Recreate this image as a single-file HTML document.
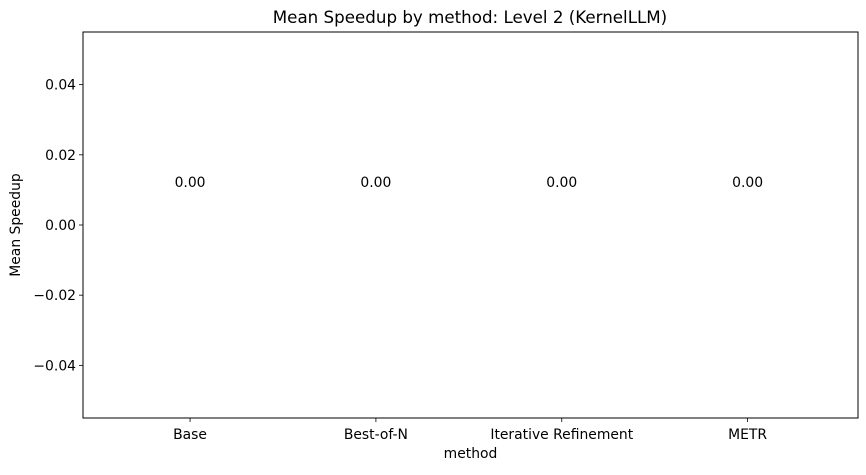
<!DOCTYPE html>
<html><head><meta charset="utf-8"><style>body{margin:0;background:#fff}svg{font-family:"DejaVu Sans","Liberation Sans",sans-serif}</style></head>
<body>
<svg id="c" width="866" height="470"></svg>
<script>
const categories=["Base","Best-of-N","Iterative Refinement","METR"];
const values=[0,0,0,0];
const yTicks=[-0.04,-0.02,0.00,0.02,0.04];
const yTickLabels=["\u22120.04","\u22120.02","0.00","0.02","0.04"];
const L=83,R=858,T=32,B=418;
const x=i=>L+(i+0.576)/(4.17)*(R-L);
const y=v=>T+(0.055-v)/0.11*(B-T);
const s=document.getElementById('c'),NS="http://www.w3.org/2000/svg";
function el(t,a,txt){const e=document.createElementNS(NS,t);for(const k in a)e.setAttribute(k,a[k]);if(txt!==undefined)e.textContent=txt;s.appendChild(e);return e;}
let e;
e=el('text',{x:470,y:23,'text-anchor':'middle','font-size':16.7},'Mean Speedup by method: Level 2 (KernelLLM)');


categories.forEach((c,i)=>{
 e=el('rect',{x:x(i-0.4),y:Math.min(y(values[i]),y(0)),width:x(0.4)-x(-0.4),height:Math.abs(y(values[i])-y(0)),fill:'#1f77b4'});
 
 
 e=el('line',{x1:x(i),x2:x(i),y1:B,y2:B+4,stroke:'#000','stroke-width':0.8});
 
 
 e=el('text',{x:x(i),y:B+21,'text-anchor':'middle','font-size':13.9},c);
 
 
 e=el('text',{x:x(i),y:y(values[i])-38,'text-anchor':'middle','font-size':13.9},values[i].toFixed(2));
 
 
});
yTicks.forEach((v,i)=>{
 e=el('line',{x1:L-4,x2:L,y1:y(v),y2:y(v),stroke:'#000','stroke-width':0.8});
 
 
 e=el('text',{x:L-7,y:y(v)+5,'text-anchor':'end','font-size':13.9},yTickLabels[i]);
 
 
});
e=el('rect',{x:L,y:T,width:R-L,height:B-T,fill:'none',stroke:'#000','stroke-width':1});


e=el('text',{x:(L+R)/2,y:458,'text-anchor':'middle','font-size':13.9},'method');


e=el('text',{x:20,y:225,'text-anchor':'middle','font-size':13.9,transform:'rotate(-90 20 225)'},'Mean Speedup');


</script>
</body></html>
